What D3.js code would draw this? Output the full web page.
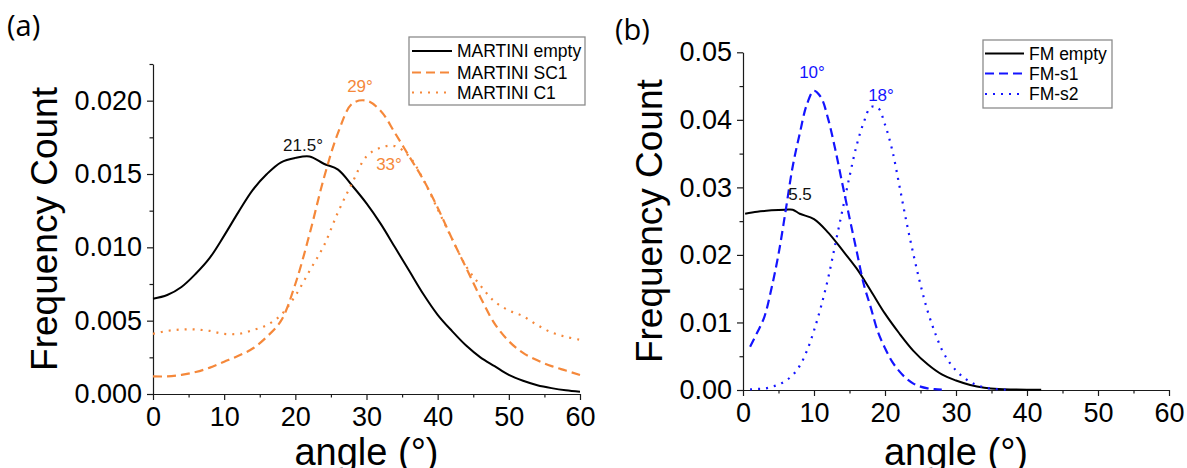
<!DOCTYPE html>
<html><head><meta charset="utf-8">
<script src="https://cdn.jsdelivr.net/npm/d3@7"></script>
<style>
body{margin:0;background:#fff}
svg{display:block}
text{font-family:"Liberation Sans",Arial,sans-serif}
</style>
</head><body>
<svg id="chart" width="1187" height="468"></svg>
<script>
// ---------- Panel (a) data ----------
const anglesA = [0,2,4,6,8,10,12,14,16,18,20,22,24,26,28,30,32,34,36,38,40,42,44,46,48,50,52,54,56,58,60];
const martiniEmpty = [0.0065,0.00675,0.0073,0.0082,0.0093,0.0108,0.0124,0.0139,0.0150,0.0158,0.0161,0.0162,0.0157,0.0153,0.0142,0.0130,0.0116,0.0100,0.0084,0.0068,0.0054,0.0043,0.0033,0.0025,0.0019,0.0013,0.0009,0.0006,0.0004,0.00025,0.00015];
const martiniSC1 = [0.0012,0.0012,0.0013,0.0015,0.0018,0.0022,0.0026,0.0031,0.0039,0.0050,0.0075,0.0109,0.0147,0.0178,0.0198,0.0200,0.0193,0.0178,0.0162,0.0146,0.0127,0.0106,0.0086,0.0066,0.0048,0.0036,0.0028,0.0023,0.0019,0.0016,0.0013];
const martiniC1 = [0.0041,0.0043,0.0044,0.0044,0.0043,0.0041,0.0041,0.00435,0.0047,0.0054,0.0067,0.0084,0.0101,0.0124,0.0144,0.0162,0.0168,0.0169,0.0162,0.0146,0.0126,0.0106,0.0087,0.0074,0.0063,0.0057,0.0053,0.0047,0.0042,0.0039,0.0037];
const yTicksA = [0,0.005,0.010,0.015,0.020];
const yMinorA = [0.0025,0.0075,0.0125,0.0175,0.0225];

// ---------- Panel (b) data ----------
const anglesEmptyB = [0.3,2,4,6,7,8,10,12,14,16,18,20,22,24,26,28,30,32,34,36,38,40,42];
const fmEmpty = [0.0261,0.0264,0.0266,0.0267,0.0267,0.0261,0.0253,0.0233,0.0207,0.0180,0.0147,0.0113,0.0084,0.0058,0.0038,0.0023,0.0014,0.00075,0.00035,0.00015,0.00008,0.00005,0.00004];
const anglesS1 = [1,2,3,4,5,6,7,8,9,10,11,12,13,14,15,16,17,18,19,20,21,22,23,24,25,26,27,28];
const fmS1 = [0.0064,0.0085,0.0108,0.0150,0.0201,0.0265,0.0331,0.0380,0.0423,0.0443,0.0433,0.0401,0.0356,0.0305,0.0255,0.0206,0.0157,0.0122,0.0086,0.0062,0.0042,0.0028,0.0017,0.00095,0.0005,0.00025,0.00012,0.00005];
const anglesS2 = [1,2,3,4,5,6,7,8,9,10,11,12,13,14,15,16,17,18,19,20,21,22,23,24,25,26,27,28,29,30,31,32,33,34,35,36,37];
const fmS2 = [0.0001,0.00015,0.0002,0.00045,0.0008,0.00135,0.0022,0.0036,0.0058,0.0088,0.0124,0.0166,0.0216,0.0266,0.0316,0.0362,0.0396,0.0419,0.0418,0.0393,0.0356,0.0304,0.0250,0.0201,0.0156,0.0117,0.0086,0.0060,0.0042,0.0029,0.0019,0.0012,0.0007,0.0004,0.0002,0.0001,0.00005];
const yTicksB = [0,0.01,0.02,0.03,0.04,0.05];
const yMinorB = [0.005,0.015,0.025,0.035,0.045];

const xTicks = [0,10,20,30,40,50,60];
const xMinor = [5,15,25,35,45,55];

const ORANGE = "#f5883a", BLUE = "#1414ff";

const svg = d3.select("#chart");

function panel(cfg){
  const x = d3.scaleLinear().domain([0,60]).range(cfg.xr);
  const y = d3.scaleLinear().domain(cfg.yd).range(cfg.yr);
  const g = svg.append("g");

  // minor ticks
  g.append("g").attr("transform",`translate(0,${cfg.yr[0]})`)
    .call(d3.axisBottom(x).tickValues(xMinor).tickSize(3.5).tickFormat("").tickSizeOuter(0))
    .call(s=>s.select(".domain").remove());
  g.append("g").attr("transform",`translate(${cfg.xr[0]},0)`)
    .call(d3.axisLeft(y).tickValues(cfg.yMinor).tickSize(3.5).tickFormat("").tickSizeOuter(0))
    .call(s=>s.select(".domain").remove());

  const gx = g.append("g").attr("transform",`translate(0,${cfg.yr[0]})`)
    .call(d3.axisBottom(x).tickValues(xTicks).tickSize(6).tickPadding(7).tickSizeOuter(0).tickFormat(d3.format("d")));
  const gy = g.append("g").attr("transform",`translate(${cfg.xr[0]},0)`)
    .call(d3.axisLeft(y).tickValues(cfg.yTicks).tickSize(6).tickPadding(5).tickSizeOuter(0).tickFormat(d3.format(cfg.fmt)));
  [gx,gy].forEach(a=>{
    a.attr("font-family",null).attr("font-size",null);
    a.selectAll("text").attr("font-size",27).attr("fill","#000");
  });
  g.selectAll(".domain, .tick line").attr("stroke","#1a1a1a").attr("stroke-width",1.2);

  // series
  cfg.series.forEach(s=>{
    const line = d3.line().x((d,i)=>x(s.xs[i])).y(d=>y(d)).curve(d3.curveCatmullRom.alpha(0.5));
    g.append("path").datum(s.ys).attr("d",line).attr("fill","none")
      .attr("stroke",s.color).attr("stroke-width",s.w).attr("stroke-dasharray",s.dash);
  });

  // annotations
  cfg.notes.forEach(n=>{
    g.append("text").attr("x",n.x).attr("y",n.y).attr("text-anchor","middle")
      .attr("font-size",17).attr("fill",n.color).text(n.t);
  });

  // axis titles
  g.append("text").attr("x",(cfg.xr[0]+cfg.xr[1])/2).attr("y",465).attr("text-anchor","middle")
    .attr("font-size",38).text("angle (°)");
  g.append("text").attr("transform",`translate(${cfg.ytx},${(cfg.yr[0]+cfg.yr[1])/2}) rotate(-90)`)
    .attr("text-anchor","middle").attr("font-size",37).text("Frequency Count");

  // panel label
  g.append("text").attr("x",cfg.lab[0]).attr("y",cfg.lab[1]).attr("font-size",29)
    .style("font-family","'Open Sans',sans-serif").text(cfg.label);

  // legend
  const L = cfg.legend;
  g.append("rect").attr("x",L.x).attr("y",L.y).attr("width",L.w).attr("height",L.h)
    .attr("fill","#fff").attr("stroke","#8c8c8c").attr("stroke-width",1.3);
  cfg.series.forEach((s,i)=>{
    const ly = L.rows[i];
    g.append("line").attr("x1",L.lx[0]).attr("x2",L.lx[1]).attr("y1",ly).attr("y2",ly)
      .attr("stroke",s.color).attr("stroke-width",s.w).attr("stroke-dasharray",s.dash);
    g.append("text").attr("x",L.tx).attr("y",ly+6.3).attr("font-size",17.5).text(s.name);
  });
}

panel({
  xr:[153,580], yr:[394,64], yd:[0,0.0225], yTicks:yTicksA, yMinor:yMinorA, fmt:".3f",
  ytx:57, lab:[7,36], label:"(a)",
  series:[
    {name:"MARTINI empty", xs:anglesA, ys:martiniEmpty, color:"#000", w:2, dash:null},
    {name:"MARTINI SC1", xs:anglesA, ys:martiniSC1, color:ORANGE, w:2.2, dash:"9,5"},
    {name:"MARTINI C1", xs:anglesA, ys:martiniC1, color:ORANGE, w:2.2, dash:"2,6"}
  ],
  notes:[
    {x:303,y:151,t:"21.5°",color:"#111"},
    {x:360,y:92,t:"29°",color:ORANGE},
    {x:389,y:170,t:"33°",color:ORANGE}
  ],
  legend:{x:409,y:37,w:176,h:68,rows:[51,72.5,92.5],lx:[412,452],tx:457}
});

panel({
  xr:[743,1169], yr:[390,52.3], yd:[0,0.05], yTicks:yTicksB, yMinor:yMinorB, fmt:".2f",
  ytx:662, lab:[615,40], label:"(b)",
  series:[
    {name:"FM empty", xs:anglesEmptyB, ys:fmEmpty, color:"#000", w:2, dash:null},
    {name:"FM-s1", xs:anglesS1, ys:fmS1, color:BLUE, w:2.2, dash:"9,5"},
    {name:"FM-s2", xs:anglesS2, ys:fmS2, color:BLUE, w:2.2, dash:"2,6"}
  ],
  notes:[
    {x:800,y:200,t:"5.5",color:"#111"},
    {x:812,y:78,t:"10°",color:BLUE},
    {x:881,y:101,t:"18°",color:BLUE}
  ],
  legend:{x:983,y:40,w:129,h:68,rows:[53.5,73.5,94],lx:[985,1024],tx:1029}
});
</script>
</body></html>
